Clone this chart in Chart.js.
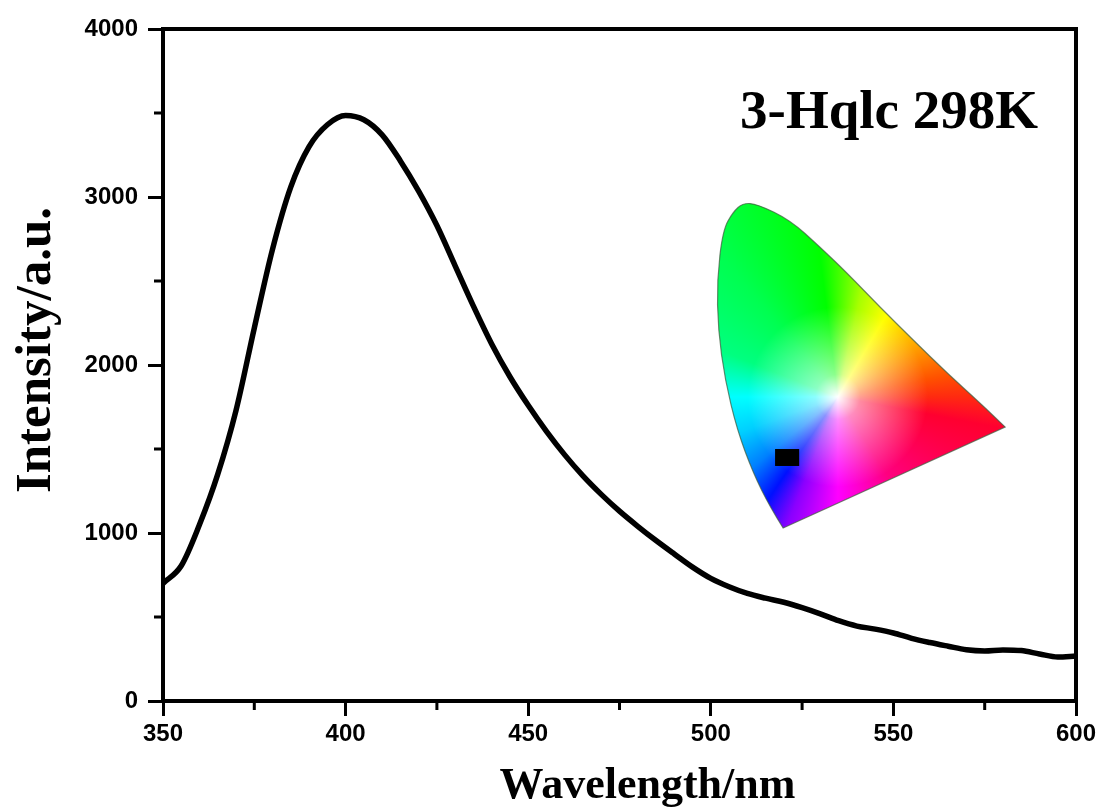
<!DOCTYPE html>
<html lang="en">
<head>
<meta charset="UTF-8">
<title>3-Hqlc 298K emission spectrum</title>
<style>
  html, body { margin: 0; padding: 0; background: #fff; }
  #wrap { width: 1110px; height: 810px; }
</style>
<script src="https://cdn.jsdelivr.net/npm/chart.js"></script>
</head>
<body>
<div id="wrap"><canvas id="spectrum"></canvas></div>
<script>
// emission spectrum
const wavelengths = [350, 355, 360, 365, 370, 375, 380, 385, 390, 395,
  400, 405, 410, 415, 420, 425, 430, 435, 440, 445,
  450, 455, 460, 465, 470, 475, 480, 485, 490, 495,
  500, 505, 510, 515, 520, 525, 530, 535, 540, 545,
  550, 555, 560, 565, 570, 575, 580, 585, 590, 595, 600];
const intensity = [700, 805, 1050, 1350, 1730, 2220, 2690, 3060, 3300, 3430,
  3485, 3460, 3370, 3215, 3035, 2830, 2590, 2350, 2125, 1930,
  1760, 1605, 1465, 1340, 1230, 1130, 1040, 955, 875, 797,
  730, 680, 640, 612, 588, 556, 519, 478, 446, 428,
  405, 373, 348, 326, 305, 298, 304, 300, 280, 262, 268];

const xTicks = [350, 400, 450, 500, 550, 600];
const xMinorTicks = [375, 425, 475, 525, 575];
const yTicks = [0, 1000, 2000, 3000, 4000];
const yMinorTicks = [500, 1500, 2500, 3500];

const sampleLabel = '3-Hqlc 298K';
const xTitle = 'Wavelength/nm';
const yTitle = 'Intensity/a.u.';

// CIE inset, outline placed in chart units (violet corner -> green top -> red corner)
const cieX = [519.8, 516.2, 511.6, 507.2, 503.9, 502.0, 501.7, 503.3, 506.1, 508.8,
  512.7, 521.7, 529.9, 537.3, 546.3, 555.4, 564.7, 573.7, 580.6];
const cieY = [1030, 1155, 1357, 1613, 1911, 2208, 2506, 2804, 2911, 2964,
  2958, 2863, 2702, 2548, 2345, 2149, 1952, 1774, 1631];
const cieWhite = [534.8, 1810];
const cieMarker = [517.6, 1500, 524.2, 1399];

const serif = "'Liberation Serif', 'Times New Roman', serif";
const tickFont = { family: "'Liberation Sans', Arial, sans-serif", size: 24, weight: 'bold' };

function outline(ctx, pts) {
  ctx.beginPath();
  ctx.moveTo(pts[0][0], pts[0][1]);
  for (let i = 1; i < pts.length - 1; i++) {
    const mx = (pts[i][0] + pts[i + 1][0]) / 2;
    const my = (pts[i][1] + pts[i + 1][1]) / 2;
    ctx.quadraticCurveTo(pts[i][0], pts[i][1], mx, my);
  }
  ctx.lineTo(pts[pts.length - 1][0], pts[pts.length - 1][1]);
  ctx.closePath();
}

const insetPlugin = {
  id: 'cieInset',
  beforeDatasetsDraw(chart) {
    const { ctx, scales: { x, y } } = chart;
    const pts = cieX.map((v, i) => [x.getPixelForValue(v), y.getPixelForValue(cieY[i])]);
    const cx = x.getPixelForValue(cieWhite[0]);
    const cy = y.getPixelForValue(cieWhite[1]);

    ctx.save();
    outline(ctx, pts);
    const hue = ctx.createConicGradient(0, cx, cy);
    hue.addColorStop(0.0, '#ff2a10');
    hue.addColorStop(0.03, '#ff0030');
    hue.addColorStop(0.16, '#ff0080');
    hue.addColorStop(0.25, '#ff00ff');
    hue.addColorStop(0.31, '#8a00ff');
    hue.addColorStop(0.345, '#0010ff');
    hue.addColorStop(0.39, '#0080ff');
    hue.addColorStop(0.445, '#00d0ff');
    hue.addColorStop(0.50, '#00ffff');
    hue.addColorStop(0.53, '#00ffc0');
    hue.addColorStop(0.56, '#00ff80');
    hue.addColorStop(0.64, '#00ff50');
    hue.addColorStop(0.73, '#00ff00');
    hue.addColorStop(0.785, '#a8ff00');
    hue.addColorStop(0.835, '#ffff00');
    hue.addColorStop(0.91, '#ffa000');
    hue.addColorStop(0.97, '#ff5000');
    hue.addColorStop(1.0, '#ff2a10');
    ctx.fillStyle = hue;
    ctx.fill();

    ctx.clip();
    const glow = ctx.createRadialGradient(cx, cy, 0, cx, cy, 90);
    glow.addColorStop(0, 'rgba(255,255,255,1)');
    glow.addColorStop(0.25, 'rgba(255,255,255,0.55)');
    glow.addColorStop(1, 'rgba(255,255,255,0)');
    ctx.fillStyle = glow;
    ctx.fillRect(cx - 200, cy - 200, 400, 400);
    ctx.restore();

    ctx.save();
    ctx.strokeStyle = 'rgba(60,90,60,0.7)';
    ctx.lineWidth = 1.2;
    outline(ctx, pts);
    ctx.stroke();

    // chromaticity point
    const x0 = x.getPixelForValue(cieMarker[0]), y0 = y.getPixelForValue(cieMarker[1]);
    const x1 = x.getPixelForValue(cieMarker[2]), y1 = y.getPixelForValue(cieMarker[3]);
    ctx.fillStyle = '#000';
    ctx.fillRect(x0, y0, x1 - x0, y1 - y0);
    ctx.restore();
  }
};

const framePlugin = {
  id: 'frame',
  afterDraw(chart) {
    const { ctx, chartArea: a, scales: { x, y } } = chart;
    ctx.save();
    ctx.strokeStyle = '#000';
    ctx.lineWidth = 4;
    ctx.beginPath();
    ctx.moveTo(a.left - 2, a.top);
    ctx.lineTo(a.right, a.top);
    ctx.lineTo(a.right, a.bottom + 2);
    ctx.stroke();

    // minor ticks
    ctx.lineWidth = 3;
    ctx.beginPath();
    xMinorTicks.forEach(v => {
      const px = x.getPixelForValue(v);
      ctx.moveTo(px, a.bottom);
      ctx.lineTo(px, a.bottom + 9);
    });
    yMinorTicks.forEach(v => {
      const py = y.getPixelForValue(v);
      ctx.moveTo(a.left, py);
      ctx.lineTo(a.left - 9, py);
    });
    ctx.stroke();

    // titles
    ctx.fillStyle = '#000';
    ctx.textBaseline = 'alphabetic';
    ctx.font = 'bold 44px ' + serif;
    ctx.textAlign = 'center';
    ctx.fillText(xTitle, (a.left + a.right) / 2 + 28, a.bottom + 97);

    ctx.save();
    ctx.translate(50, (a.top + a.bottom) / 2 - 15);
    ctx.rotate(-Math.PI / 2);
    ctx.font = 'bold 51px ' + serif;
    ctx.fillText(yTitle, 0, 0);
    ctx.restore();

    ctx.font = 'bold 55px ' + serif;
    ctx.textAlign = 'right';
    ctx.fillText(sampleLabel, a.right - 38, a.top + 99);
    ctx.restore();
  }
};

new Chart(document.getElementById('spectrum'), {
  type: 'line',
  data: {
    datasets: [{
      label: sampleLabel,
      data: wavelengths.map((w, i) => ({ x: w, y: intensity[i] })),
      borderColor: '#000',
      borderWidth: 5.5,
      pointRadius: 0,
      cubicInterpolationMode: 'monotone',
      fill: false
    }]
  },
  options: {
    responsive: true,
    maintainAspectRatio: false,
    animation: false,
    layout: { padding: { top: 29, right: 34, left: 0, bottom: 0 } },
    plugins: {
      legend: { display: false },
      tooltip: { enabled: false }
    },
    scales: {
      x: {
        type: 'linear',
        min: 350,
        max: 600,
        afterBuildTicks: s => { s.ticks = xTicks.map(v => ({ value: v })); },
        afterFit: s => { s.height = 109; },
        border: { display: true, color: '#000', width: 4 },
        grid: { drawOnChartArea: false, drawTicks: true, tickLength: 15, tickWidth: 3, tickColor: '#000' },
        ticks: { color: '#000', font: tickFont, padding: 4, maxRotation: 0, callback: v => String(v) }
      },
      y: {
        min: 0,
        max: 4000,
        afterBuildTicks: s => { s.ticks = yTicks.map(v => ({ value: v })); },
        afterFit: s => { s.width = 163; },
        border: { display: true, color: '#000', width: 4 },
        grid: { drawOnChartArea: false, drawTicks: true, tickLength: 15, tickWidth: 3, tickColor: '#000' },
        ticks: { color: '#000', font: tickFont, padding: 10, callback: v => String(v) }
      }
    }
  },
  plugins: [insetPlugin, framePlugin]
});
</script>
</body>
</html>
